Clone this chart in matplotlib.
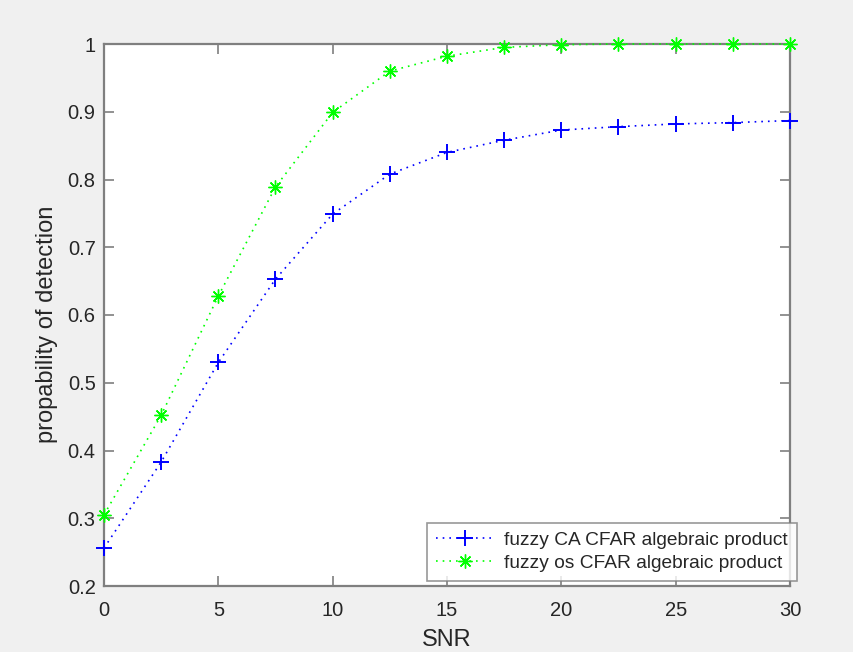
import matplotlib
matplotlib.use("Agg")
import matplotlib.pyplot as plt

snr = [0, 2.5, 5, 7.5, 10, 12.5, 15, 17.5, 20, 22.5, 25, 27.5, 30]
pd_ca = [0.256, 0.383, 0.530, 0.653, 0.749, 0.808, 0.840, 0.858,
         0.873, 0.878, 0.882, 0.884, 0.887]
pd_os = [0.305, 0.452, 0.628, 0.789, 0.899, 0.960, 0.982, 0.995,
         0.999, 1.0, 1.0, 1.0, 1.0]
label_ca = "fuzzy CA CFAR algebraic product"
label_os = "fuzzy os CFAR algebraic product"
xticks = [0, 5, 10, 15, 20, 25, 30]
yticks = [0.2, 0.3, 0.4, 0.5, 0.6, 0.7, 0.8, 0.9, 1.0]
ytick_labels = ["0.2", "0.3", "0.4", "0.5", "0.6", "0.7", "0.8", "0.9", "1"]

plt.rcParams["font.family"] = ["Liberation Sans", "DejaVu Sans"]
axis_grey = "#7f7f7f"
text_grey = "#262626"

fig = plt.figure(figsize=(8.54, 6.52), dpi=100, facecolor="#f0f0f0")
ax = fig.add_axes([104 / 854, 1 - 586 / 652, 686 / 854, 542 / 652])
ax.set_facecolor("white")

ax.plot(snr, pd_ca, linestyle=(0, (1, 3)), color="#0000ff", lw=1.2,
        marker="+", ms=12, mew=1.4, label=label_ca, clip_on=False, zorder=3)
ax.plot(snr, pd_os, linestyle=(0, (1, 3)), color="#00ff00", lw=1.2,
        marker=(8, 2, 0), ms=10, mew=1.0, label=label_os, clip_on=False, zorder=3)

ax.set_xlim(0, 30)
ax.set_ylim(0.2, 1.0)
ax.set_xticks(xticks)
ax.set_xticklabels([str(v) for v in xticks])
ax.set_yticks(yticks)
ax.set_yticklabels(ytick_labels)

for s in ax.spines.values():
    s.set_color(axis_grey)
    s.set_linewidth(1.6)
ax.tick_params(direction="in", length=7, width=1.2, color=axis_grey,
               labelcolor=text_grey, labelsize=14.5, top=True, right=True)
ax.tick_params(axis="x", pad=11)
ax.tick_params(axis="y", pad=6)

ax.set_xlabel("SNR", fontsize=17, color=text_grey, labelpad=6)
ax.set_ylabel("propability of detection", fontsize=17, color=text_grey)
ax.yaxis.set_label_coords(-0.067, 0.4825)

leg = ax.legend(loc="lower right", bbox_to_anchor=(797 / 854, 1 - 581 / 652),
                bbox_transform=fig.transFigure, fontsize=13.75, frameon=True,
                fancybox=False, edgecolor=axis_grey, handlelength=3.1,
                borderpad=0.47, labelspacing=0.3, handletextpad=0.5,
                borderaxespad=0)
leg.get_frame().set_linewidth(1.2)
for t in leg.get_texts():
    t.set_color(text_grey)

fig.savefig("out.png", dpi=100, facecolor=fig.get_facecolor())
